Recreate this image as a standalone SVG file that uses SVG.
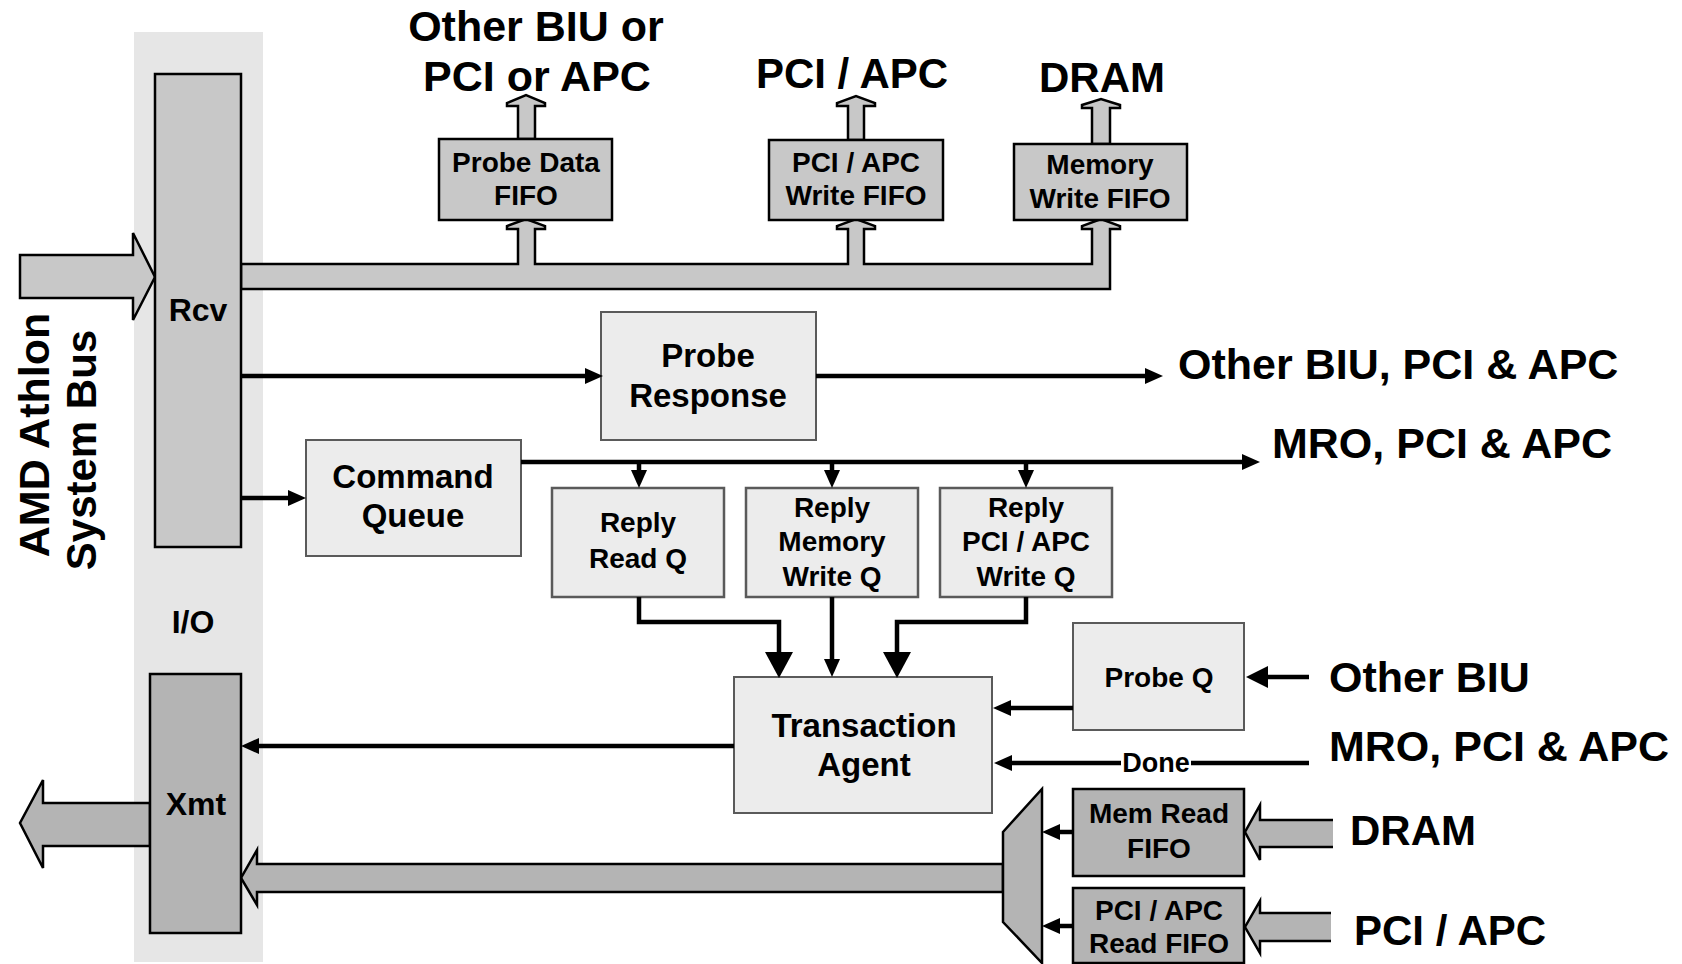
<svg xmlns="http://www.w3.org/2000/svg" width="1682" height="964" viewBox="0 0 1682 964">
<style>
text{font-family:"Liberation Sans",Arial,sans-serif;font-weight:bold;fill:#000}
.c{text-anchor:middle}
.t28{font-size:28px}
.t32{font-size:32px}
.t33{font-size:33px}
.t42{font-size:42px}
.t43{font-size:43px}
.lt{fill:#ececec;stroke:#5a5a5a;stroke-width:2}
.dk1{fill:#c8c8c8;stroke:#000;stroke-width:2.5}
.dk2{fill:#b4b4b4;stroke:#000;stroke-width:2.5}
.ln{fill:none;stroke:#000;stroke-width:4.5}
.bus1{fill:#c8c8c8;stroke:#000;stroke-width:2.5;stroke-linejoin:miter}
.bus2{fill:#b4b4b4;stroke:#000;stroke-width:2.5;stroke-linejoin:miter}
</style>
<defs>
<marker id="a" markerUnits="userSpaceOnUse" viewBox="0 0 18 16" markerWidth="18" markerHeight="16" refX="10" refY="8" orient="auto"><path d="M0,0 L18,8 L0,16 z" fill="#000"/></marker>
<marker id="ab" markerUnits="userSpaceOnUse" viewBox="0 0 26 28" markerWidth="26" markerHeight="28" refX="14" refY="14" orient="auto"><path d="M0,0 L26,14 L0,28 z" fill="#000"/></marker>
<marker id="am" markerUnits="userSpaceOnUse" viewBox="0 0 22 22" markerWidth="22" markerHeight="22" refX="12" refY="11" orient="auto"><path d="M0,0 L22,11 L0,22 z" fill="#000"/></marker>
</defs>
<rect width="1682" height="964" fill="#fff"/>
<rect id="io-band" x="134" y="32" width="129" height="930" fill="#e6e6e6"/>

<g id="bus-label">
<text class="c t43" transform="translate(49,435) rotate(-90)">AMD Athlon</text>
<text class="c t42" transform="translate(96,450) rotate(-90)">System Bus</text>
</g>

<g id="buses">
<path class="bus1" d="M20,255 H133 V233 L155,277 L133,320 V298 H20 Z"/>
<path class="bus1" d="M241,264 H518 V229 H507 V226 L526,219 L545,226 V229 H535 V264 H848 V229 H837 V226 L856,219 L875,226 V229 H864 V264 H1092 V229 H1082 V226 L1101,219 L1120,226 V229 H1110 V289 H241 Z"/>
<path class="bus1" d="M518,139 V106 H507 V103 L526,95 L545,103 V106 H535 V139 Z"/>
<path class="bus1" d="M848,140 V106 H837 V103 L856,96 L875,103 V106 H864 V140 Z"/>
<path class="bus1" d="M1092,144 V108 H1082 V105 L1101,99 L1120,105 V108 H1110 V144 Z"/>
<path class="bus2" d="M150,803 H43 V780 L20,823 L43,868 V846 H150 Z"/>
<path class="bus2" d="M1003,864 H257 V850 L241,878 L257,905 V892 H1003 Z"/>
<path class="bus2" d="M1333,820 H1260 V805 L1245,832 L1260,860 V847 H1333"/>
<path class="bus2" d="M1331,913 H1260 V901 L1245,927 L1260,953 V941 H1331"/>
</g>

<g id="rcv"><rect class="dk1" x="155" y="74" width="86" height="473"/><text class="c t32" x="198" y="321">Rcv</text></g>
<g id="xmt"><rect class="dk2" x="150" y="674" width="91" height="259"/><text class="c t32" x="196" y="815">Xmt</text></g>
<g id="io-label"><text class="c t32" x="193" y="633">I/O</text></g>

<g id="probe-data-fifo"><rect class="dk1" x="439" y="139" width="173" height="81"/><text class="c t28" x="526" y="172">Probe Data</text><text class="c t28" x="526" y="205">FIFO</text></g>
<g id="pci-write-fifo"><rect class="dk1" x="769" y="140" width="174" height="80"/><text class="c t28" x="856" y="172">PCI / APC</text><text class="c t28" x="856" y="205">Write FIFO</text></g>
<g id="mem-write-fifo"><rect class="dk1" x="1014" y="144" width="173" height="76"/><text class="c t28" x="1100" y="174">Memory</text><text class="c t28" x="1100" y="208">Write FIFO</text></g>

<g id="top-labels">
<text class="c t43" x="536" y="41">Other BIU or</text>
<text class="c t43" x="537" y="91">PCI or APC</text>
<text class="c t42" x="852" y="88">PCI / APC</text>
<text class="c t42" x="1102" y="92">DRAM</text>
</g>

<g id="probe-response"><rect class="lt" x="601" y="312" width="215" height="128"/><text class="c t33" x="708" y="367">Probe</text><text class="c t33" x="708" y="407">Response</text></g>
<g id="command-queue"><rect class="lt" x="306" y="440" width="215" height="116"/><text class="c t33" x="413" y="488">Command</text><text class="c t33" x="413" y="527">Queue</text></g>
<g id="reply-read-q"><rect class="lt" x="552" y="488" width="172" height="109" style="stroke-width:2.5"/><text class="c t28" x="638" y="532">Reply</text><text class="c t28" x="638" y="568">Read Q</text></g>
<g id="reply-mem-write-q"><rect class="lt" x="746" y="488" width="172" height="109" style="stroke-width:2.5"/><text class="c t28" x="832" y="517">Reply</text><text class="c t28" x="832" y="551">Memory</text><text class="c t28" x="832" y="586">Write Q</text></g>
<g id="reply-pci-write-q"><rect class="lt" x="940" y="488" width="172" height="109" style="stroke-width:2.5"/><text class="c t28" x="1026" y="517">Reply</text><text class="c t28" x="1026" y="551">PCI / APC</text><text class="c t28" x="1026" y="586">Write Q</text></g>
<g id="probe-q"><rect class="lt" x="1073" y="623" width="171" height="107"/><text class="c t28" x="1159" y="687">Probe Q</text></g>
<g id="transaction-agent"><rect class="lt" x="734" y="677" width="258" height="136"/><text class="c t33" x="864" y="737">Transaction</text><text class="c t33" x="864" y="776">Agent</text></g>
<g id="mux"><path class="dk2" d="M1003,832 L1042,789 L1042,963 L1003,922 Z"/></g>
<g id="mem-read-fifo"><rect class="dk2" x="1073" y="789" width="171" height="87"/><text class="c t28" x="1159" y="823">Mem Read</text><text class="c t28" x="1159" y="858">FIFO</text></g>
<g id="pci-read-fifo"><rect class="dk2" x="1073" y="888" width="171" height="75"/><text class="c t28" x="1159" y="920">PCI / APC</text><text class="c t28" x="1159" y="953">Read FIFO</text></g>

<g id="right-labels">
<text class="t43" x="1178" y="379">Other BIU, PCI &amp; APC</text>
<text class="t43" x="1272" y="458">MRO, PCI &amp; APC</text>
<text class="t43" x="1329" y="692">Other BIU</text>
<text class="t43" x="1329" y="761">MRO, PCI &amp; APC</text>
<text class="t42" x="1350" y="845">DRAM</text>
<text class="t42" x="1354" y="945">PCI / APC</text>
</g>

<g id="connectors">
<path class="ln" d="M241,376 H595" marker-end="url(#a)"/>
<path class="ln" d="M816,376 H1155" marker-end="url(#a)"/>
<path class="ln" d="M241,498 H298" marker-end="url(#a)"/>
<path class="ln" d="M521,462 H1252" marker-end="url(#a)"/>
<path class="ln" d="M639,462 V480" marker-end="url(#a)"/>
<path class="ln" d="M832,462 V480" marker-end="url(#a)"/>
<path class="ln" d="M1026,462 V480" marker-end="url(#a)"/>
<path class="ln" d="M639,597 V622 H779 V666" marker-end="url(#ab)"/>
<path class="ln" d="M832,597 V669" marker-end="url(#a)"/>
<path class="ln" d="M1026,597 V622 H897 V666" marker-end="url(#ab)"/>
<path class="ln" d="M1073,708 H1001" marker-end="url(#a)"/>
<path class="ln" d="M1309,677 H1256" marker-end="url(#am)"/>
<path class="ln" d="M1309,763 H1191"/>
<path class="ln" d="M1121,763 H1002" marker-end="url(#a)"/>
<text class="c" x="1156" y="772" style="font-size:27px">Done</text>
<path class="ln" d="M734,746 H249" marker-end="url(#a)"/>
<path class="ln" d="M1073,832 H1050" marker-end="url(#a)"/>
<path class="ln" d="M1073,926 H1050" marker-end="url(#a)"/>
</g>
</svg>
